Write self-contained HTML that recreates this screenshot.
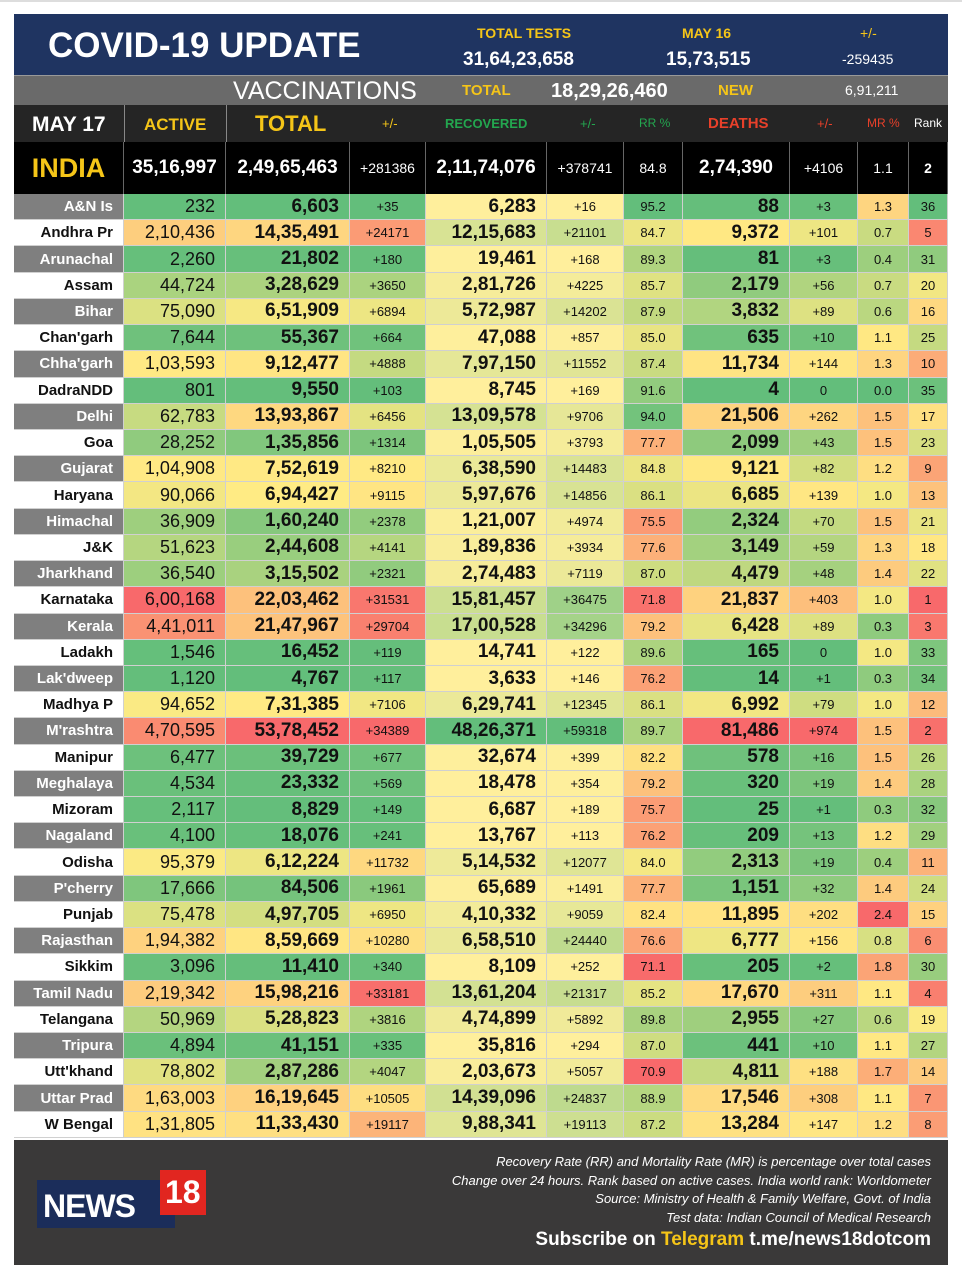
<!DOCTYPE html>
<html><head><meta charset="utf-8">
<style>
*{margin:0;padding:0;box-sizing:border-box}
body{width:962px;height:1280px;background:#fff;position:relative;overflow:hidden;font-family:"Liberation Sans Narrow","Liberation Sans",sans-serif}
.abs{position:absolute}
#hdr{left:14px;top:14px;width:934px;height:61px;background:#1f3461}
#vac{left:14px;top:75px;width:934px;height:30px;background:#6a6a6a;border-top:1px solid #999}
#colh{left:14px;top:105px;width:934px;height:37px;background:#252525}
#ind{left:14px;top:142px;width:934px;height:52px;background:#000}
.t{position:absolute;white-space:nowrap;line-height:1}
.gold{color:#f5c518}
.w{color:#fff}
#rows{left:14px;top:194px;width:934px}
.row{display:flex;height:26.22px}
.c{height:100%;border-right:1px solid #d0d0d0;border-bottom:1px solid #d0d0d0;display:flex;align-items:center;justify-content:flex-end;padding-right:10px;font-size:18px;color:#111;white-space:nowrap}
.b{font-weight:bold;font-size:19px}
.s{font-size:13px;justify-content:center;padding:0}
.lab{font-weight:bold;font-size:15px}
#foot{left:14px;top:1140px;width:934px;height:125px;background:#3a3939}
.fl{position:absolute;right:17px;color:#fff;font-style:italic;font-size:13px;white-space:nowrap}
</style></head><body>
<div class="abs" style="left:0;top:0;width:962px;height:2px;background:#ddd"></div>
<div class="abs" id="hdr">
 <div class="t w" style="left:34px;top:14px;font-size:35px;font-weight:bold;font-family:'Liberation Sans',sans-serif">COVID-19 UPDATE</div>
 <div class="t gold" style="left:463px;top:12px;font-size:14px;font-weight:bold">TOTAL TESTS</div>
 <div class="t w" style="left:449px;top:36px;font-size:19px;font-weight:bold">31,64,23,658</div>
 <div class="t gold" style="left:668px;top:12px;font-size:14px;font-weight:bold">MAY 16</div>
 <div class="t w" style="left:652px;top:36px;font-size:19px;font-weight:bold">15,73,515</div>
 <div class="t gold" style="left:846px;top:12px;font-size:14px">+/-</div>
 <div class="t w" style="left:828px;top:38px;font-size:14px">-259435</div>
</div>
<div class="abs" id="vac">
 <div class="t w" style="left:219px;top:3px;font-size:25px">VACCINATIONS</div>
 <div class="t gold" style="left:448px;top:7px;font-size:15px;font-weight:bold">TOTAL</div>
 <div class="t w" style="left:537px;top:5px;font-size:20px;font-weight:bold">18,29,26,460</div>
 <div class="t gold" style="left:704px;top:7px;font-size:15px;font-weight:bold">NEW</div>
 <div class="t w" style="left:831px;top:7px;font-size:14px">6,91,211</div>
</div>
<div class="abs" id="colh">
 <div class="abs" style="left:110px;top:0;width:1px;height:37px;background:#888"></div>
 <div class="abs" style="left:212px;top:0;width:1px;height:37px;background:#888"></div>
 <div class="t w" style="left:18px;top:9px;font-size:21px;font-weight:bold">MAY 17</div>
 <div class="t gold" style="left:130px;top:11px;font-size:17px;font-weight:bold">ACTIVE</div>
 <div class="t gold" style="left:241px;top:8px;font-size:22px;font-weight:bold">TOTAL</div>
 <div class="t gold" style="left:368px;top:12px;font-size:13px">+/-</div>
 <div class="t" style="left:431px;top:12px;font-size:13px;font-weight:bold;color:#23a64f">RECOVERED</div>
 <div class="t" style="left:566px;top:12px;font-size:13px;color:#23a64f">+/-</div>
 <div class="t" style="left:625px;top:12px;font-size:12px;color:#23a64f">RR %</div>
 <div class="t" style="left:694px;top:11px;font-size:15px;font-weight:bold;color:#e8402a">DEATHS</div>
 <div class="t" style="left:803px;top:12px;font-size:13px;color:#e8402a">+/-</div>
 <div class="t" style="left:853px;top:12px;font-size:12px;color:#e8402a">MR %</div>
 <div class="t w" style="left:900px;top:12px;font-size:12px">Rank</div>
</div>
<div class="abs" id="ind"></div>
<div class="abs" id="rows"></div>
<div class="abs" id="foot">
 <div class="abs" style="left:23px;top:40px;width:138px;height:48px;background:#1b2d5a"></div>
 <div class="abs" style="left:146px;top:30px;width:46px;height:45px;background:#e12620"></div>
 <div class="t w" style="left:29px;top:50px;font-size:32px;font-weight:bold;font-family:'Liberation Sans',sans-serif;letter-spacing:-1px">NEWS</div>
 <div class="t w" style="left:151px;top:36px;font-size:32px;font-weight:bold">18</div>
 <div class="fl" style="top:14px">Recovery Rate (RR) and Mortality Rate (MR) is percentage over total cases</div>
 <div class="fl" style="top:33px">Change over 24 hours. Rank based on active cases. India world rank: Worldometer</div>
 <div class="fl" style="top:51px">Source: Ministry of Health &amp; Family Welfare, Govt. of India</div>
 <div class="fl" style="top:70px">Test data: Indian Council of Medical Research</div>
 <div class="fl" style="top:89px;font-style:normal;font-size:19px;font-weight:bold">Subscribe on <span class="gold">Telegram</span> t.me/news18dotcom</div>
</div>
<script>
var W=[110,102,124,76,121,77,59,107,68,51,39];
var D=`A&N Is|232|6,603|+35|6,283|+16|95.2|88|+3|1.3|36
Andhra Pr|2,10,436|14,35,491|+24171|12,15,683|+21101|84.7|9,372|+101|0.7|5
Arunachal|2,260|21,802|+180|19,461|+168|89.3|81|+3|0.4|31
Assam|44,724|3,28,629|+3650|2,81,726|+4225|85.7|2,179|+56|0.7|20
Bihar|75,090|6,51,909|+6894|5,72,987|+14202|87.9|3,832|+89|0.6|16
Chan'garh|7,644|55,367|+664|47,088|+857|85.0|635|+10|1.1|25
Chha'garh|1,03,593|9,12,477|+4888|7,97,150|+11552|87.4|11,734|+144|1.3|10
DadraNDD|801|9,550|+103|8,745|+169|91.6|4|0|0.0|35
Delhi|62,783|13,93,867|+6456|13,09,578|+9706|94.0|21,506|+262|1.5|17
Goa|28,252|1,35,856|+1314|1,05,505|+3793|77.7|2,099|+43|1.5|23
Gujarat|1,04,908|7,52,619|+8210|6,38,590|+14483|84.8|9,121|+82|1.2|9
Haryana|90,066|6,94,427|+9115|5,97,676|+14856|86.1|6,685|+139|1.0|13
Himachal|36,909|1,60,240|+2378|1,21,007|+4974|75.5|2,324|+70|1.5|21
J&K|51,623|2,44,608|+4141|1,89,836|+3934|77.6|3,149|+59|1.3|18
Jharkhand|36,540|3,15,502|+2321|2,74,483|+7119|87.0|4,479|+48|1.4|22
Karnataka|6,00,168|22,03,462|+31531|15,81,457|+36475|71.8|21,837|+403|1.0|1
Kerala|4,41,011|21,47,967|+29704|17,00,528|+34296|79.2|6,428|+89|0.3|3
Ladakh|1,546|16,452|+119|14,741|+122|89.6|165|0|1.0|33
Lak'dweep|1,120|4,767|+117|3,633|+146|76.2|14|+1|0.3|34
Madhya P|94,652|7,31,385|+7106|6,29,741|+12345|86.1|6,992|+79|1.0|12
M'rashtra|4,70,595|53,78,452|+34389|48,26,371|+59318|89.7|81,486|+974|1.5|2
Manipur|6,477|39,729|+677|32,674|+399|82.2|578|+16|1.5|26
Meghalaya|4,534|23,332|+569|18,478|+354|79.2|320|+19|1.4|28
Mizoram|2,117|8,829|+149|6,687|+189|75.7|25|+1|0.3|32
Nagaland|4,100|18,076|+241|13,767|+113|76.2|209|+13|1.2|29
Odisha|95,379|6,12,224|+11732|5,14,532|+12077|84.0|2,313|+19|0.4|11
P'cherry|17,666|84,506|+1961|65,689|+1491|77.7|1,151|+32|1.4|24
Punjab|75,478|4,97,705|+6950|4,10,332|+9059|82.4|11,895|+202|2.4|15
Rajasthan|1,94,382|8,59,669|+10280|6,58,510|+24440|76.6|6,777|+156|0.8|6
Sikkim|3,096|11,410|+340|8,109|+252|71.1|205|+2|1.8|30
Tamil Nadu|2,19,342|15,98,216|+33181|13,61,204|+21317|85.2|17,670|+311|1.1|4
Telangana|50,969|5,28,823|+3816|4,74,899|+5892|89.8|2,955|+27|0.6|19
Tripura|4,894|41,151|+335|35,816|+294|87.0|441|+10|1.1|27
Utt'khand|78,802|2,87,286|+4047|2,03,673|+5057|70.9|4,811|+188|1.7|14
Uttar Prad|1,63,003|16,19,645|+10505|14,39,096|+24837|88.9|17,546|+308|1.1|7
W Bengal|1,31,805|11,33,430|+19117|9,88,341|+19113|87.2|13,284|+147|1.2|8`.split("\n").map(function(l){return l.split("|")});
var G=[99,190,123],Y=[255,235,132],R=[248,105,107],Y2=[255,239,156];
function mix(a,b,t){t=Math.max(0,Math.min(1,t));return "rgb("+a.map(function(v,i){return Math.round(v+(b[i]-v)*t)}).join(",")+")"}
function num(s){return parseFloat(s.replace(/[,+]/g,""))}
var T=[0,1,1,1,2,2,3,1,1,1,3];
var stats=[];
for(var c=1;c<11;c++){var v=D.map(function(r){return num(r[c])}).sort(function(a,b){return a-b});
 var sum=v.reduce(function(a,b){return a+b},0);
 stats[c]={min:v[0],max:v[v.length-1],med:sum/v.length};}
function col(c,s){var x=num(s),st=stats[c];
 if(T[c]==2){return mix(Y2,G,(x-st.min)/(st.max-st.min));}
 var lo=T[c]==1?G:R,hi=T[c]==1?R:G;
 if(x<=st.med)return mix(lo,Y,(x-st.min)/(st.med-st.min||1));
 return mix(Y,hi,(x-st.med)/(st.max-st.med||1));}
var big=[2,4,7],small=[3,5,6,8,9,10];
var h="";
D.forEach(function(r,i){
 h+='<div class="row">';
 var gray=i%2==0;
 h+='<div class="c lab" style="width:'+W[0]+'px;background:'+(gray?'#7f7f7f':'#fff')+';color:'+(gray?'#fff':'#111')+'">'+r[0].replace("&","&amp;")+'</div>';
 for(var c=1;c<11;c++){
  var cls="c"+(big.indexOf(c)>=0?" b":"")+(small.indexOf(c)>=0?" s":"");
  h+='<div class="'+cls+'" style="width:'+W[c]+'px;background:'+col(c,r[c])+'">'+r[c]+'</div>';
 }
 h+='</div>';
});
document.getElementById("rows").innerHTML=h;
var I=["INDIA","35,16,997","2,49,65,463","+281386","2,11,74,076","+378741","84.8","2,74,390","+4106","1.1","2"];
var ih="<div style='display:flex;height:52px'>";
I.forEach(function(s,c){
 var st="width:"+W[c]+"px;height:52px;border-right:1px solid #666;display:flex;align-items:center;justify-content:center;color:#fff;white-space:nowrap;";
 if(c==0)st+="color:#f5c518;font-size:27px;font-weight:bold;";
 else if(big.indexOf(c)>=0||c==1)st+="font-size:19px;font-weight:bold;";
 else st+="font-size:14px;"+(c==10?"font-weight:bold;":"");
 ih+="<div style='"+st+"'>"+s+"</div>";
});
document.getElementById("ind").innerHTML=ih+"</div>";
</script>
</body></html>
